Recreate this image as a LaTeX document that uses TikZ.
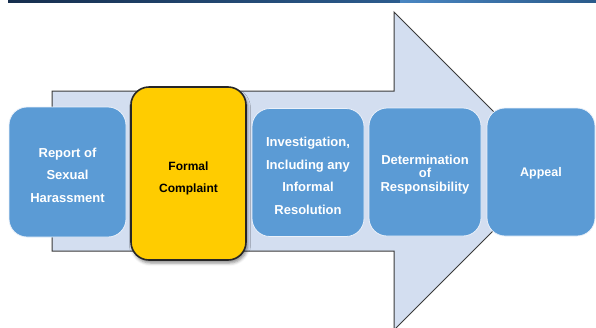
\documentclass[tikz,border=0pt]{standalone}
\usepackage{fontspec}
\setmainfont{Liberation Sans}
\usetikzlibrary{shadows.blur}
\definecolor{arrowfill}{RGB}{211,222,240}
\definecolor{arrowline}{RGB}{58,58,58}
\definecolor{boxblue}{RGB}{91,155,213}
\definecolor{boxyellow}{RGB}{255,204,0}
\definecolor{barA}{RGB}{22,46,78}
\definecolor{barB}{RGB}{44,92,142}
\definecolor{barC}{RGB}{74,134,194}
\definecolor{barD}{RGB}{42,90,138}
\tikzset{
  stepbox/.style={draw={rgb,255:red,235;green,241;blue,250}, line width=0.8pt, fill=boxblue,
    rounded corners=18pt, inner sep=0pt, minimum height=128pt},
  keybox/.style={draw={rgb,255:red,38;green,38;blue,38}, line width=1.6pt, fill=boxyellow,
    rounded corners=18pt, inner sep=0pt,
    blur shadow={shadow xshift=1.5pt, shadow yshift=-3pt, shadow blur radius=3pt, shadow opacity=45}},
  steptext/.style={inner sep=0pt, align=center, text=white,
    font=\bfseries\fontsize{13}{22.5}\selectfont},
  keytext/.style={inner sep=0pt, align=center, text=black,
    font=\bfseries\fontsize{12}{22}\selectfont}
}
\begin{document}
\begin{tikzpicture}[x=1pt,y=-1pt]
\useasboundingbox (0,0) rectangle (596,327);
\clip (0,0) rectangle (596,327);
% top bar
\shade[left color=barA, right color=barB] (8,0) rectangle (400,2.5);
\shade[left color=barC, right color=barD] (400,0) rectangle (596,2.5);
% big arrow
\draw[fill=arrowfill, draw=arrowline, line width=1pt]
  (52,91) -- (394,91) -- (394,12) -- (553,171) -- (394,330) -- (394,251) -- (52,251) -- cycle;
% boxes
\node[stepbox, minimum width=117pt, minimum height=130pt] (n1) at (67.5,172) {};
\node[keybox, minimum width=115pt, minimum height=173pt] (n2) at (188.5,173.5) {};
\node[stepbox, minimum width=112pt] (n3) at (308,172.5) {};
\node[stepbox, minimum width=112pt] (n4) at (425,172) {};
\node[stepbox, minimum width=108pt] (n5) at (541,172) {};
% texts
\node[steptext] (t1) at ([yshift=-3pt]n1.center) {Report of\\Sexual\\Harassment};
\node[keytext] (t2) at ([yshift=-4.5pt]n2.center) {Formal\\Complaint};
\node[steptext] (t3) at ([yshift=-3.5pt]n3.center) {Investigation,\\Including any\\Informal\\Resolution};
\node[steptext, font=\bfseries\fontsize{13}{13.5}\selectfont] (t4) at ([yshift=-2.5pt]n4.center) {Determination\\of\\Responsibility};
\node[steptext, font=\bfseries\fontsize{12.5}{15}\selectfont] (t5) at ([yshift=-1.5pt]n5.center) {Appeal};
\end{tikzpicture}
\end{document}
